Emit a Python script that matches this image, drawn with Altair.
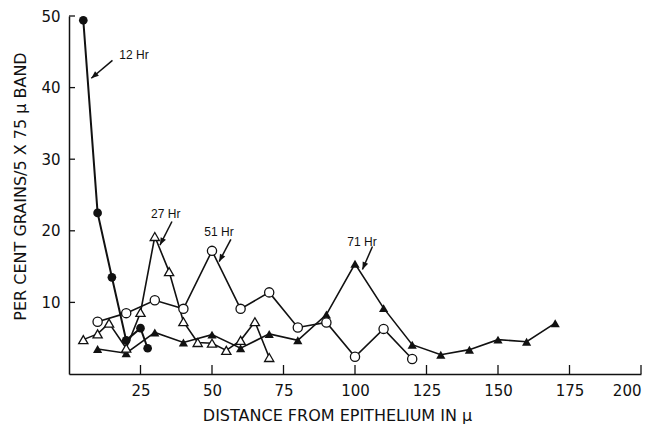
import math
import altair as alt
import pandas as pd

# ---- data ----
x12 = [5, 10, 15, 20, 25, 27.5]
y12 = [49.4, 22.5, 13.5, 4.7, 6.4, 3.6]

x27 = [5, 10, 14, 20, 25, 30, 35, 40, 45, 50, 55, 60, 65, 70]
y27 = [4.8, 5.6, 7.1, 3.6, 8.6, 19.2, 14.3, 7.3, 4.4, 4.3, 3.3, 4.7, 7.3, 2.3]

x51 = [10, 20, 30, 40, 50, 60, 70, 80, 90, 100, 110, 120]
y51 = [7.3, 8.5, 10.3, 9.1, 17.2, 9.1, 11.4, 6.5, 7.2, 2.4, 6.3, 2.1]

x71 = [10, 20, 30, 40, 50, 60, 70, 80, 90, 100, 110, 120, 130, 140, 150, 160, 170]
y71 = [3.5, 2.9, 5.8, 4.4, 5.5, 3.6, 5.6, 4.7, 8.3, 15.4, 9.2, 4.1, 2.7, 3.4, 4.8, 4.5, 7.1]

x_ticks = [25, 50, 75, 100, 125, 150, 175, 200]
y_ticks = [10, 20, 30, 40, 50]

ann_text = ["12 Hr", "27 Hr", "51 Hr", "71 Hr"]
ann_tx = [17.6, 28.7, 47.3, 97.3]
ann_ty = [44.6, 22.3, 19.8, 18.5]
arr_x1 = [15.2, 36.0, 56.6, 106.1]
arr_y1 = [43.8, 21.3, 18.8, 17.8]
arr_x2 = [7.8, 31.8, 52.5, 102.6]
arr_y2 = [41.3, 18.0, 15.7, 14.6]

x_title = "DISTANCE FROM EPITHELIUM IN μ"
y_title = "PER CENT GRAINS/5 X 75 μ BAND"

# ---- styling ----
W, H = 572, 358
XDOM, YDOM = [0, 200], [0, 50]
FONT = "DejaVu Sans"
ANN_FONT = "Liberation Sans"
INK = "#111111"


def frame(xs, ys):
    return pd.DataFrame({"x": xs, "y": ys})


xs = alt.Scale(domain=XDOM, nice=False, zero=False)
ys = alt.Scale(domain=YDOM, nice=False, zero=False)

x_label_axis = alt.Axis(
    orient="bottom", values=x_ticks, ticks=False, tickSize=0, labelPadding=9,
    labelFontSize=15, labelFont=FONT, labelColor=INK, labelFlush=True,
    labelOverlap=False, domainColor=INK, domainWidth=1.5, grid=False,
    title=x_title, titleFont=FONT, titleFontSize=16, titleFontWeight="normal",
    titleColor=INK, titleX=268, titleY=41, titleBaseline="middle",
)
y_label_axis = alt.Axis(
    orient="left", values=y_ticks, ticks=False, tickSize=0, labelPadding=9,
    labelFontSize=15, labelFont=FONT, labelColor=INK, labelFlush=False,
    labelOverlap=False, domainColor=INK, domainWidth=1.5, grid=False,
    title=y_title, titleFont=FONT, titleFontSize=16, titleFontWeight="normal",
    titleColor=INK, titleX=-49, titleY=170, titleBaseline="middle", titleAngle=270,
)


def enc(axis_x=None, axis_y=None):
    return dict(
        x=alt.X("x:Q", scale=xs, axis=axis_x),
        y=alt.Y("y:Q", scale=ys, axis=axis_y),
    )


d12, d27, d51, d71 = frame(x12, y12), frame(x27, y27), frame(x51, y51), frame(x71, y71)

line12 = alt.Chart(d12).mark_line(color=INK, strokeWidth=2).encode(**enc(x_label_axis, y_label_axis))
line71 = alt.Chart(d71).mark_line(color=INK, strokeWidth=1.6).encode(**enc())
line27 = alt.Chart(d27).mark_line(color=INK, strokeWidth=1.6).encode(**enc())
line51 = alt.Chart(d51).mark_line(color=INK, strokeWidth=1.6).encode(**enc())

pts12 = alt.Chart(d12).mark_point(shape="circle", filled=True, size=75, color=INK, opacity=1).encode(**enc())
pts71 = alt.Chart(d71).mark_point(shape="triangle-up", filled=True, size=85, color=INK, opacity=1).encode(**enc())
pts27 = alt.Chart(d27).mark_point(shape="triangle-up", filled=True, fill="white", stroke=INK,
                                   strokeWidth=1.3, size=85, opacity=1).encode(**enc())
pts51 = alt.Chart(d51).mark_point(shape="circle", filled=True, fill="white", stroke=INK,
                                   strokeWidth=1.3, size=85, opacity=1).encode(**enc())

# inward tick marks, positioned by the chart's scales
xt = pd.DataFrame({"t": x_ticks})
yt = pd.DataFrame({"t": y_ticks})
x_tick_marks = alt.Chart(xt).mark_rule(color=INK, strokeWidth=1.3).encode(
    x=alt.X("t:Q", scale=xs, axis=None), y=alt.value(H), y2=alt.value(H - 9)
)
y_tick_marks = alt.Chart(yt).mark_rule(color=INK, strokeWidth=1.3).encode(
    y=alt.Y("t:Q", scale=ys, axis=None), x=alt.value(0), x2=alt.value(6)
)

# annotations
sx = W / (XDOM[1] - XDOM[0])
sy = H / (YDOM[1] - YDOM[0])
angles = []
for a, b, c, d in zip(arr_x1, arr_y1, arr_x2, arr_y2):
    dx = (c - a) * sx
    dy = -(d - b) * sy
    angles.append(math.degrees(math.atan2(dx, -dy)) % 360)

ann = pd.DataFrame({
    "text": ann_text, "tx": ann_tx, "ty": ann_ty,
    "x1": arr_x1, "y1": arr_y1, "x2": arr_x2, "y2": arr_y2, "ang": angles,
})

texts = alt.Chart(ann).mark_text(align="left", baseline="middle", fontSize=12, font=ANN_FONT, color=INK).encode(
    x=alt.X("tx:Q", scale=xs, axis=None), y=alt.Y("ty:Q", scale=ys, axis=None), text="text:N"
)
arrows = alt.Chart(ann).mark_rule(color=INK, strokeWidth=1.5).encode(
    x=alt.X("x1:Q", scale=xs, axis=None), y=alt.Y("y1:Q", scale=ys, axis=None), x2="x2:Q", y2="y2:Q"
)
heads = alt.Chart(ann).mark_point(shape="M0,0L-0.4,1L0.4,1Z", filled=True, size=220, color=INK, opacity=1).encode(
    x=alt.X("x2:Q", scale=xs, axis=None), y=alt.Y("y2:Q", scale=ys, axis=None),
    angle=alt.Angle("ang:Q", scale=None),
)

chart = (
    alt.layer(line12, line71, line27, line51, pts12, pts71, pts27, pts51,
              x_tick_marks, y_tick_marks, arrows, heads, texts)
    .resolve_axis(x="independent", y="independent")
    .properties(
        width=W, height=H,
        autosize=alt.AutoSizeParams(type="none"),
        padding={"left": 61, "top": 8, "right": 11, "bottom": 51},
        background="white",
    )
    .configure_view(strokeWidth=0)
)

chart.save("out.html", embed_options={"renderer": "svg", "actions": False})
